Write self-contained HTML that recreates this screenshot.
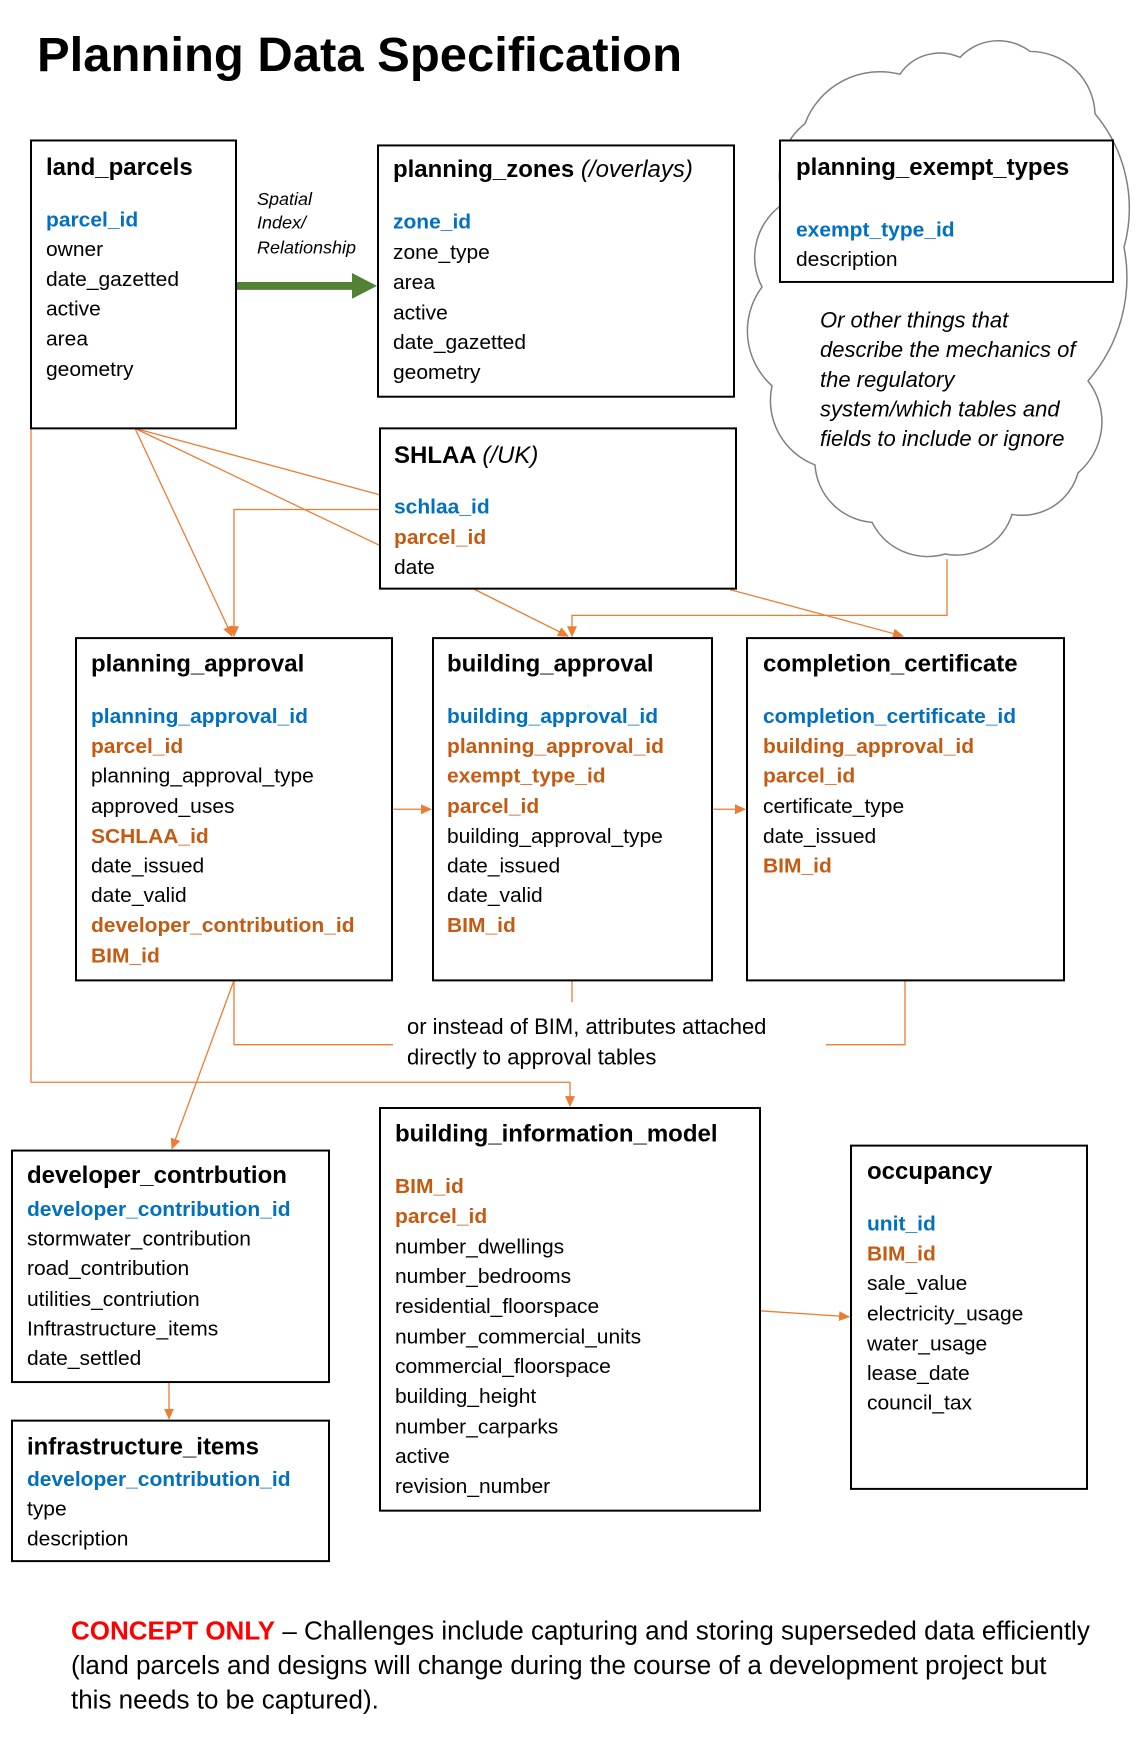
<!DOCTYPE html>
<html><head><meta charset="utf-8"><style>
html,body{margin:0;padding:0;background:#fff;}
svg{display:block;}
text{font-family:"Liberation Sans",sans-serif;font-size:21px;fill:#000;}
.t{font-weight:bold;font-size:24px;}
.b{fill:#0070C0;font-weight:bold;}
.o{fill:#C55A11;font-weight:bold;}
.i{font-style:italic;}
.box{fill:#fff;stroke:#000;stroke-width:2;}
.ln{stroke:#ED7D31;stroke-width:1.3;fill:none;}
</style></head><body>
<svg width="1141" height="1737" viewBox="0 0 1141 1737" xmlns="http://www.w3.org/2000/svg">
<defs><marker id="a" markerWidth="12" markerHeight="12" refX="10" refY="5" orient="auto" markerUnits="userSpaceOnUse"><path d="M0,0 L11,5 L0,10 z" fill="#ED7D31"/></marker></defs>
<g transform="scale(1,0.9893)">
<text x="37" y="72" style="font-size:49px;font-weight:bold">Planning Data Specification</text>

<!-- cloud -->
<path d="M805,125 A80,80 0 0 1 900,75 A48,48 0 0 1 960,58 A52,52 0 0 1 1030,52 A65,65 0 0 1 1095,115 A150,150 0 0 1 1124,250 A160,160 0 0 1 1088,385 A68,68 0 0 1 1078,478 A58,58 0 0 1 1012,520 A58,58 0 0 1 945,560 A62,62 0 0 1 872,528 A62,62 0 0 1 815,470 A70,70 0 0 1 772,390 A75,75 0 0 1 762,290 A65,65 0 0 1 785,205 A68,68 0 0 1 805,125 z" fill="#fff" stroke="#808080" stroke-width="1.5"/>
<text class="i" x="820" y="331" style="font-size:22px">Or other things that</text>
<text class="i" x="820" y="361" style="font-size:22px">describe the mechanics of</text>
<text class="i" x="820" y="391" style="font-size:22px">the regulatory</text>
<text class="i" x="820" y="421" style="font-size:22px">system/which tables and</text>
<text class="i" x="820" y="451" style="font-size:22px">fields to include or ignore</text>

<!-- connectors -->
<path class="ln" d="M135,433 L379,500"/>
<path class="ln" d="M135,433 L379,551"/>
<path class="ln" d="M135,433 L232,643" marker-end="url(#a)"/>
<path class="ln" d="M379,515 L234,515 L234,643" marker-end="url(#a)"/>
<path class="ln" d="M31,433 L31,1094 L570,1094 L570,1118" marker-end="url(#a)"/>
<path class="ln" d="M473,595 L568,643" marker-end="url(#a)"/>
<path class="ln" d="M947,565 L947,622 L572,622 L572,643" marker-end="url(#a)"/>
<path class="ln" d="M730,596 L903,643" marker-end="url(#a)"/>
<path class="ln" d="M392,818 L431,818" marker-end="url(#a)"/>
<path class="ln" d="M712,818 L745,818" marker-end="url(#a)"/>
<path class="ln" d="M234,991 L234,1056 L393,1056"/>
<path class="ln" d="M905,991 L905,1056 L826,1056"/>
<path class="ln" d="M572,991 L572,1013"/>
<path class="ln" d="M234,991 L172,1161" marker-end="url(#a)"/>
<path class="ln" d="M169,1397 L169,1434" marker-end="url(#a)"/>
<path class="ln" d="M760,1325 L849,1331" marker-end="url(#a)"/>

<!-- green arrow -->
<rect x="236" y="285" width="118" height="8" fill="#548235"/>
<path d="M352,276 L377,289 L352,302 z" fill="#548235"/>
<text class="i" x="257" y="207" style="font-size:18px">Spatial</text>
<text class="i" x="257" y="231" style="font-size:18px">Index/</text>
<text class="i" x="257" y="256" style="font-size:18px">Relationship</text>

<!-- land_parcels -->
<rect class="box" x="31" y="142" width="205" height="291"/>
<text class="t" x="46" y="177">land_parcels</text>
<text class="b" x="46" y="229">parcel_id</text>
<text x="46" y="259">owner</text>
<text x="46" y="289">date_gazetted</text>
<text x="46" y="319">active</text>
<text x="46" y="349">area</text>
<text x="46" y="380">geometry</text>

<!-- planning_zones -->
<rect class="box" x="378" y="147" width="356" height="254"/>
<text class="t" x="393" y="179">planning_zones <tspan style="font-weight:normal;font-style:italic">(/overlays)</tspan></text>
<text class="b" x="393" y="231">zone_id</text>
<text x="393" y="262">zone_type</text>
<text x="393" y="292">area</text>
<text x="393" y="323">active</text>
<text x="393" y="353">date_gazetted</text>
<text x="393" y="383">geometry</text>

<!-- exempt -->
<rect class="box" x="780" y="142" width="333" height="143"/>
<text class="t" x="796" y="177">planning_exempt_types</text>
<text class="b" x="796" y="239">exempt_type_id</text>
<text x="796" y="269">description</text>

<!-- SHLAA -->
<rect class="box" x="380" y="433" width="356" height="162"/>
<text class="t" x="394" y="468">SHLAA <tspan style="font-weight:normal;font-style:italic">(/UK)</tspan></text>
<text class="b" x="394" y="519">schlaa_id</text>
<text class="o" x="394" y="550">parcel_id</text>
<text x="394" y="580">date</text>

<!-- planning_approval -->
<rect class="box" x="76" y="645" width="316" height="346"/>
<text class="t" x="91" y="679">planning_approval</text>
<text class="b" x="91" y="731">planning_approval_id</text>
<text class="o" x="91" y="761">parcel_id</text>
<text x="91" y="791">planning_approval_type</text>
<text x="91" y="822">approved_uses</text>
<text class="o" x="91" y="852">SCHLAA_id</text>
<text x="91" y="882">date_issued</text>
<text x="91" y="912">date_valid</text>
<text class="o" x="91" y="942">developer_contribution_id</text>
<text class="o" x="91" y="973">BIM_id</text>

<!-- building_approval -->
<rect class="box" x="433" y="645" width="279" height="346"/>
<text class="t" x="447" y="679">building_approval</text>
<text class="b" x="447" y="731">building_approval_id</text>
<text class="o" x="447" y="761">planning_approval_id</text>
<text class="o" x="447" y="791">exempt_type_id</text>
<text class="o" x="447" y="822">parcel_id</text>
<text x="447" y="852">building_approval_type</text>
<text x="447" y="882">date_issued</text>
<text x="447" y="912">date_valid</text>
<text class="o" x="447" y="942">BIM_id</text>

<!-- completion -->
<rect class="box" x="747" y="645" width="317" height="346"/>
<text class="t" x="763" y="679">completion_certificate</text>
<text class="b" x="763" y="731">completion_certificate_id</text>
<text class="o" x="763" y="761">building_approval_id</text>
<text class="o" x="763" y="791">parcel_id</text>
<text x="763" y="822">certificate_type</text>
<text x="763" y="852">date_issued</text>
<text class="o" x="763" y="882">BIM_id</text>

<text x="407" y="1045" style="font-size:22px">or instead of BIM, attributes attached</text>
<text x="407" y="1076" style="font-size:22px">directly to approval tables</text>

<!-- BIM -->
<rect class="box" x="380" y="1120" width="380" height="407"/>
<text class="t" x="395" y="1154">building_information_model</text>
<text class="o" x="395" y="1206">BIM_id</text>
<text class="o" x="395" y="1236">parcel_id</text>
<text x="395" y="1267">number_dwellings</text>
<text x="395" y="1297">number_bedrooms</text>
<text x="395" y="1327">residential_floorspace</text>
<text x="395" y="1358">number_commercial_units</text>
<text x="395" y="1388">commercial_floorspace</text>
<text x="395" y="1418">building_height</text>
<text x="395" y="1449">number_carparks</text>
<text x="395" y="1479">active</text>
<text x="395" y="1509">revision_number</text>

<!-- occupancy -->
<rect class="box" x="851" y="1158" width="236" height="347"/>
<text class="t" x="867" y="1192">occupancy</text>
<text class="b" x="867" y="1244">unit_id</text>
<text class="o" x="867" y="1274">BIM_id</text>
<text x="867" y="1304">sale_value</text>
<text x="867" y="1335">electricity_usage</text>
<text x="867" y="1365">water_usage</text>
<text x="867" y="1395">lease_date</text>
<text x="867" y="1425">council_tax</text>

<!-- developer -->
<rect class="box" x="12" y="1163" width="317" height="234"/>
<text class="t" x="27" y="1196">developer_contrbution</text>
<text class="b" x="27" y="1229">developer_contribution_id</text>
<text x="27" y="1259">stormwater_contribution</text>
<text x="27" y="1289">road_contribution</text>
<text x="27" y="1320">utilities_contriution</text>
<text x="27" y="1350">Inftrastructure_items</text>
<text x="27" y="1380">date_settled</text>

<!-- infrastructure -->
<rect class="box" x="12" y="1436" width="317" height="142"/>
<text class="t" x="27" y="1470">infrastructure_items</text>
<text class="b" x="27" y="1502">developer_contribution_id</text>
<text x="27" y="1532">type</text>
<text x="27" y="1562">description</text>

<!-- footer -->
<text x="71" y="1657" style="font-size:26px"><tspan style="fill:#FF0000;font-weight:bold">CONCEPT ONLY</tspan> – Challenges include capturing and storing superseded data efficiently</text>
<text x="71" y="1692" style="font-size:26px">(land parcels and designs will change during the course of a development project but</text>
<text x="71" y="1727" style="font-size:26px">this needs to be captured).</text>
</g>
</svg>
</body></html>
